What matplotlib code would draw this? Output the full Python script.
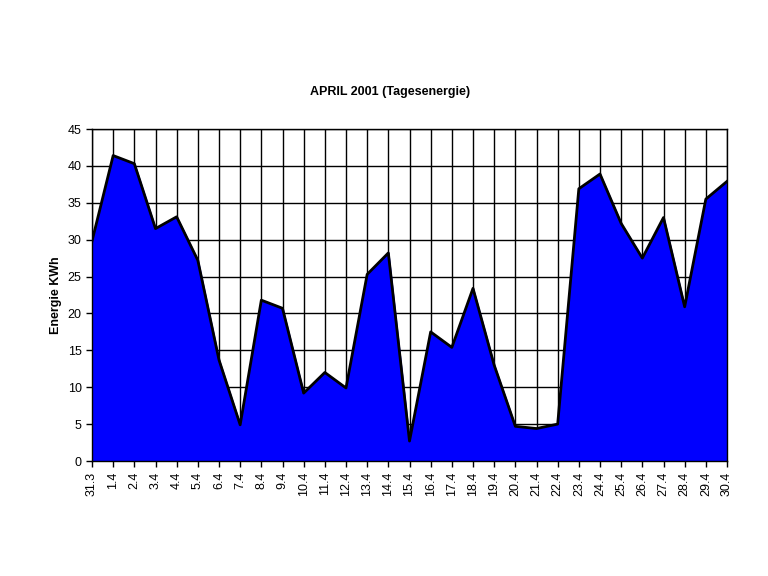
import numpy as np
import matplotlib.pyplot as plt

plt.rcParams['font.family'] = ['Liberation Sans', 'DejaVu Sans']

# Tage (31.3 bis 30.4) und Tagesenergie in kWh
tage = ['31.3'] + ['%d.4' % d for d in range(1, 31)]
energie = [29.8, 41.4, 40.3, 31.5, 33.1, 27.2, 13.7, 4.9, 21.8, 20.7,
           9.2, 12.0, 9.9, 25.3, 28.2, 2.7, 17.5, 15.4, 23.4, 13.0,
           4.7, 4.4, 5.0, 36.9, 38.9, 32.2, 27.5, 33.0, 20.9, 35.5, 37.9]

x = np.arange(len(tage))

fig = plt.figure(figsize=(7.68, 5.76), dpi=100)
ax = fig.add_axes([92/768, 115/576, 635/768, 332/576])

ax.fill_between(x, energie, 0, color='#0000ff', zorder=3)
ax.plot(x, energie, color='black', lw=2, zorder=4)

ax.set_xlim(0, len(tage) - 1)
ax.set_ylim(0, 45)
ax.set_yticks(range(0, 46, 5))
ax.set_xticks(x)
ax.set_xticklabels(tage, rotation=90, fontsize=9)
ax.tick_params(axis='y', labelsize=9, length=4, width=1, direction='out')
ax.tick_params(axis='x', length=4, width=1, direction='out')
ax.grid(True, color='black', lw=1, zorder=1)
ax.set_axisbelow(True)
for s in ax.spines.values():
    s.set_linewidth(1)
    s.set_zorder(5)

ax.set_ylabel('Energie KWh', fontsize=9, fontweight='bold')
fig.text(390/768, 1 - 92/576, 'APRIL 2001 (Tagesenergie)', fontsize=9,
         fontweight='bold', ha='center', va='center')

fig.savefig('out.png', dpi=100)
